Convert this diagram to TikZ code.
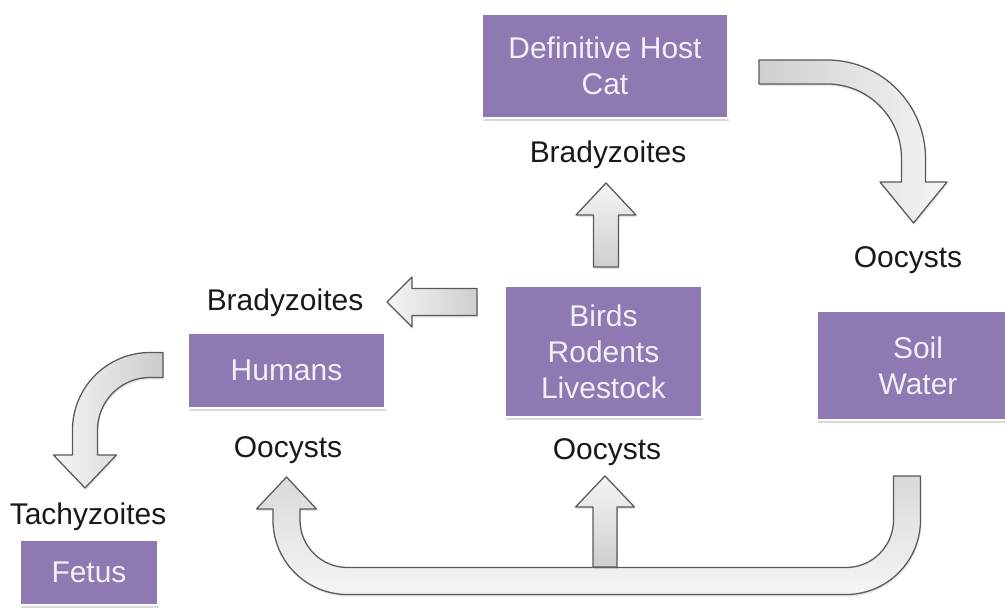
\documentclass[tikz,border=0pt]{standalone}
\usepackage{fontspec}
\setmainfont{Liberation Sans}
\usetikzlibrary{shadows}
\definecolor{boxpurple}{RGB}{143,121,178}
\definecolor{boxtext}{RGB}{243,239,248}
\definecolor{lbltext}{RGB}{25,25,25}
\tikzset{
  bxP/.style={draw=white, fill=boxpurple, line width=1.5pt,
              minimum width=#1, align=center, inner sep=0pt,
              text=boxtext, font=\fontsize{21.3}{25.6}\selectfont,
              drop shadow={shadow xshift=0.6pt, shadow yshift=-2pt,
                           opacity=0.3}},
  lbl/.style={align=center, inner sep=0pt, text=lbltext,
              font=\fontsize{21.3}{25.6}\selectfont},
  blk/.style={draw=black!65, line width=0.9pt, line join=round,
              drop shadow={shadow xshift=0.6pt, shadow yshift=-1.5pt,
                           opacity=0.2}},
}

\begin{document}
\begin{tikzpicture}[x=0.025cm, y=0.025cm]
    \useasboundingbox (0,0) rectangle (1005,609);

    % boxes
    \node[bxP=6.15cm,  minimum height=2.6cm]   (cat)    at (605, 543)   {Definitive Host\\Cat};
    \node[bxP=4.925cm, minimum height=3.275cm] (birds)  at (603.5, 257.5) {Birds\\Rodents\\Livestock};
    \node[bxP=4.925cm, minimum height=1.875cm] (humans) at (286.5, 238.5) {Humans};
    \node[bxP=5.05cm,  minimum height=2.725cm] (soil)   at (918, 243.5) {Soil\\Water};
    \node[bxP=3.45cm,  minimum height=1.625cm] (fetus)  at (89, 36.5)   {Fetus};

    % labels
    \node[lbl] (catlbl)  at (608, 454) {Bradyzoites};
    \node[lbl] (humlbl)  at (285, 306) {Bradyzoites};
    \node[lbl] (soillbl) at (908, 349) {Oocysts};
    \node[lbl] (humoo)   at (288, 159) {Oocysts};
    \node[lbl] (birdsoo) at (607, 157) {Oocysts};
    \node[lbl] (tachy)   at (88, 92)   {Tachyzoites};

    % arrow ends
    \coordinate (aTail) at (606, 342);   \coordinate (aTip) at (606, 426);
    \coordinate (bTail) at (477, 307);   \coordinate (bTip) at (387, 307);
    \coordinate (cTail) at (759, 537);   \coordinate (cTip) at (913.5, 386);
    \coordinate (dTail) at (163, 244);   \coordinate (dTip) at (85, 121);
    \coordinate (eTail) at (907, 133);   \coordinate (eTip) at (286.5, 132);
    \coordinate (fTail) at (605, 42);    \coordinate (fTip) at (605, 133);

    % birds -> cat
    \draw[blk, top color=gray!8, bottom color=gray!38]
      (aTail) ++(-12.5,0) -- ++(0,52) -- ++(-17.5,0) -- (aTip)
      -- ++(30,-32) -- ++(-17.5,0) -- ++(0,-52) -- cycle;
    % birds -> humans
    \draw[blk, left color=gray!8, right color=gray!38]
      (bTail) ++(0,13.5) -- ++(-65,0) -- ++(0,11.5) -- (bTip)
      -- ++(25,-25) -- ++(0,11.5) -- ++(65,0) -- cycle;
    % cat -> soil
    \draw[blk, left color=gray!38, right color=gray!8]
      (cTail) ++(0,12) -- ++(68,0) arc[start angle=90, end angle=0, radius=2.4625cm]
      -- ++(0,-23.5) -- ++(21.5,0) -- (cTip) -- ++(-33.5,41) -- ++(21.5,0)
      -- ++(0,23.5) arc[start angle=0, end angle=90, radius=1.8625cm]
      -- ++(-68,0) -- cycle;
    % humans -> fetus
    \draw[blk, left color=gray!8, right color=gray!40]
      (dTail) ++(0,12.5) -- ++(-13,0) arc[start angle=90, end angle=180, radius=1.9375cm]
      -- ++(0,-25) -- ++(-19,0) -- (dTip) -- ++(31.5,33) -- ++(-19,0)
      -- ++(0,25) arc[start angle=180, end angle=90, radius=1.3125cm]
      -- ++(13,0) -- cycle;
    % soil -> humans
    \draw[blk, top color=gray!30, bottom color=gray!8]
      (eTail) ++(13.5,0) -- ++(0,-44) arc[start angle=0, end angle=-90, radius=1.8625cm]
      -- ++(-498.5,0) arc[start angle=270, end angle=180, radius=1.8625cm]
      -- ++(0,11) -- ++(-16.5,0) -- (eTip) -- ++(30,-32) -- ++(-16.5,0)
      -- ++(0,-11) arc[start angle=180, end angle=270, radius=1.1875cm]
      -- ++(498.5,0) arc[start angle=270, end angle=360, radius=1.1875cm]
      -- ++(0,44) -- cycle;
    % soil -> birds
    \draw[blk, top color=gray!8, bottom color=gray!38]
      (fTail) ++(-12,0) -- ++(0,60) -- ++(-17.5,0) -- (fTip)
      -- ++(29.5,-31) -- ++(-17.5,0) -- ++(0,-60) -- cycle;
  \end{tikzpicture}
\end{document}
